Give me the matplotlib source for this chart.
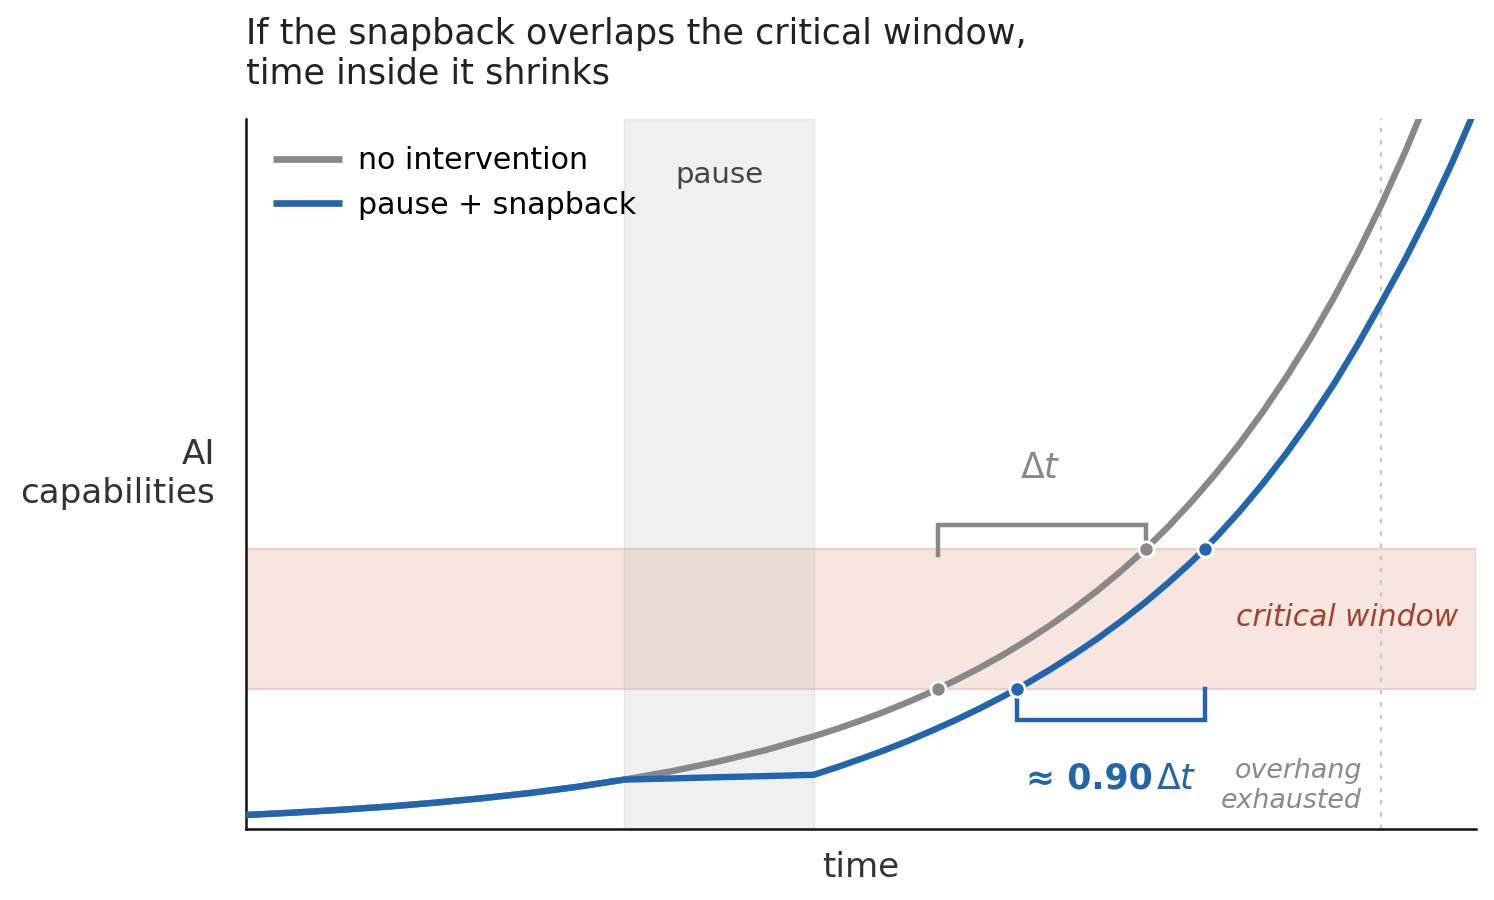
import matplotlib
matplotlib.use("Agg")
import matplotlib.pyplot as plt

# ---- data ----
t_vals = [0.0, 0.5, 1.0, 1.5, 2.0, 2.5, 3.0, 3.5, 4.0, 4.5, 5.0, 5.5,
          6.0, 6.25, 6.5, 6.75, 7.0, 7.25, 7.5, 7.75, 8.0, 8.25, 8.5, 8.75,
          9.0, 9.25, 9.5, 9.75, 10.0, 10.25, 10.5, 10.75, 11.0, 11.25, 11.5,
          11.75, 12.0, 12.25, 12.5, 12.75, 13.0]
no_intervention = [1.00, 1.17, 1.37, 1.60, 1.88, 2.20, 2.57, 3.01, 3.53,
                   4.13, 4.83, 5.65,
                   6.62, 7.16, 7.75, 8.38, 9.07, 9.81, 10.62, 11.49, 12.43,
                   13.45, 14.55, 15.74, 17.03, 18.43, 19.94, 21.61, 23.42,
                   25.38, 27.51, 29.82, 32.32, 35.03, 37.96, 41.14, 44.59,
                   48.33, 52.38, 56.77, 61.53]
pause_snapback = [1.00, 1.17, 1.37, 1.60, 1.88, 2.20, 2.57, 3.01, 3.53,
                  3.61, 3.70, 3.78,
                  3.87, 4.42, 5.01, 5.63, 6.30, 7.02, 7.78, 8.59, 9.46,
                  10.39, 11.39, 12.46, 13.60, 14.84, 16.16, 17.59, 19.12,
                  20.81, 22.67, 24.69, 26.87, 29.24, 31.80, 34.59, 37.59,
                  40.67, 44.00, 47.61, 51.51]
pause_start, pause_end = 4.0, 6.0
window_low, window_high = 10.0, 20.0
overhang_t = 12.0
cross_gray_t = [7.31, 9.51]
cross_blue_t = [8.15, 10.14]
cross_levels = [10.0, 20.0]
ratio_label = "0.90"

GRAY = "#888888"
BLUE = "#2166ac"

fig = plt.figure(figsize=(7.47, 4.5), dpi=200)
ax = fig.add_axes([246/1494, 1-829/900, (1476-246)/1494, (829-119)/900])
ax.set_xlim(0, 13)
ax.set_ylim(0, 50.7)

# shaded regions
ax.axhspan(window_low, window_high, facecolor="#f7e6e0", edgecolor="#f2cfc4",
           linewidth=0.8, zorder=1)
ax.axvspan(pause_start, pause_end, facecolor="#bbbbbb", alpha=0.22,
           edgecolor="#aaaaaa", linewidth=0.5, zorder=1.5)
ax.axvline(overhang_t, color="#c8c8c8", lw=0.8, ls=(0, (2, 3.5)), zorder=1)

# curves
ax.plot(t_vals, no_intervention, color=GRAY, lw=2.3, label="no intervention",
        zorder=3, solid_capstyle="butt")
ax.plot(t_vals, pause_snapback, color=BLUE, lw=2.3, label="pause + snapback",
        zorder=4, solid_capstyle="butt")

# brackets
gy_top = 21.7
ax.plot([cross_gray_t[0], cross_gray_t[0], cross_gray_t[1], cross_gray_t[1]],
        [19.6, gy_top, gy_top, cross_levels[1]], color=GRAY, lw=1.6, zorder=3,
        solid_joinstyle="miter")
by_bot = 7.8
ax.plot([cross_blue_t[0], cross_blue_t[0], cross_blue_t[1], cross_blue_t[1]],
        [cross_levels[0], by_bot, by_bot, cross_levels[0]], color=BLUE, lw=1.6,
        zorder=3, solid_joinstyle="miter")

# crossing markers
ax.plot(cross_gray_t, cross_levels, "o", color=GRAY, ms=5.5, mec="white",
        mew=1.0, zorder=5, ls="none")
ax.plot(cross_blue_t, cross_levels, "o", color=BLUE, ms=5.5, mec="white",
        mew=1.0, zorder=5, ls="none")

# texts
ax.text((pause_start + pause_end) / 2, 46.7, "pause", ha="center", va="center",
        fontsize=10.5, color="#444444")
ax.text(12.81, 15.07, "critical window", ha="right", va="center",
        fontsize=10.7, color="#a0432c", style="italic")
ax.text(11.795, 3.07, "overhang\nexhausted", ha="right", va="center",
        fontsize=9.7, color="#8a8a8a", style="italic", linespacing=1.2,
        multialignment="right")
ax.text(8.39, 25.1, r"$\Delta t$", ha="center", va="baseline", fontsize=12.5,
        color=GRAY)
ax.text(9.58, 2.86, "≈ " + ratio_label, ha="right", va="baseline",
        fontsize=12.5, color=BLUE, fontweight="bold")
ax.text(9.62, 2.86, r"$\Delta t$", ha="left", va="baseline", fontsize=12.5,
        color=BLUE)

# axes styling
for s in ["top", "right"]:
    ax.spines[s].set_visible(False)
for s in ["left", "bottom"]:
    ax.spines[s].set_color("#111111")
    ax.spines[s].set_linewidth(0.9)
ax.set_xticks([])
ax.set_yticks([])
ax.set_xlabel("time", fontsize=12.3, color="#333333", labelpad=8)
ax.set_ylabel("AI\ncapabilities", fontsize=12.3, color="#333333", rotation=0,
              ha="right", va="center", multialignment="right")
ax.yaxis.set_label_coords(-0.0252, 0.5)

leg = ax.legend(loc="upper left", frameon=False, fontsize=10.8,
                handlelength=2.3, handletextpad=0.55, labelspacing=0.52,
                borderaxespad=0.5)
for line in leg.get_lines():
    line.set_linewidth(2.4)

fig.text(246/1494, 1-17/900,
         "If the snapback overlaps the critical window,\ntime inside it shrinks",
         ha="left", va="top", fontsize=12.6, color="#222222", linespacing=1.2)

fig.savefig("out.png", dpi=200)
